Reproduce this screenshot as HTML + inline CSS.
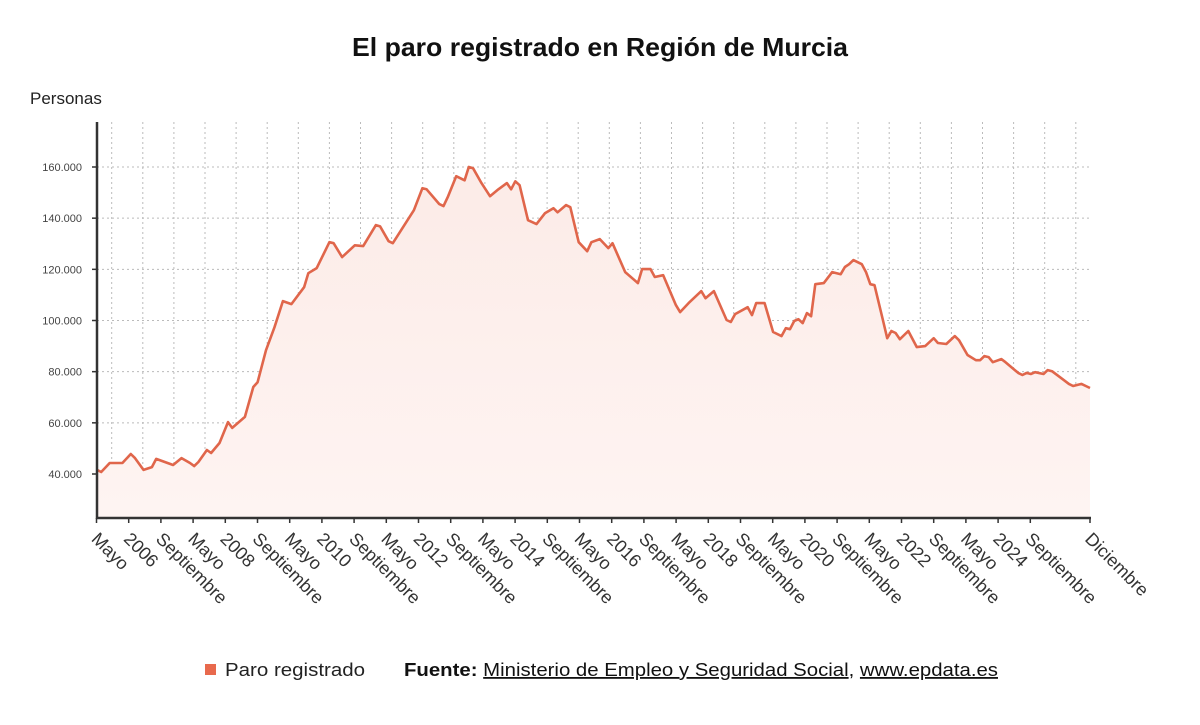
<!DOCTYPE html>
<html><head><meta charset="utf-8"><style>
body{margin:0;background:#fff;width:1200px;height:720px;overflow:hidden;font-family:"Liberation Sans",sans-serif}
</style></head><body>
<svg id="chart" width="1200" height="720" xmlns="http://www.w3.org/2000/svg">
<defs><linearGradient id="fillg" x1="0" y1="0" x2="0" y2="1"><stop offset="0" stop-color="#fcebe7"/><stop offset="1" stop-color="#fef4f2"/></linearGradient></defs>
<text x="352" y="56" textLength="496" lengthAdjust="spacingAndGlyphs" font-size="26" font-weight="bold" fill="#111">El paro registrado en Región de Murcia</text>
<text x="30" y="104" font-size="17" fill="#222">Personas</text>
<g id="grid"></g>
<g id="plot"></g>
<g id="axes"></g>
<g>
<rect x="205" y="664" width="11" height="11" fill="#e8694d"/>
<text x="225" y="676" font-size="18" textLength="140" lengthAdjust="spacingAndGlyphs" fill="#222">Paro registrado</text>
<text x="404" y="676" font-size="18" textLength="594" lengthAdjust="spacingAndGlyphs" fill="#111"><tspan font-weight="bold">Fuente:</tspan> <tspan text-decoration="underline">Ministerio de Empleo y Seguridad Social</tspan>, <tspan text-decoration="underline">www.epdata.es</tspan></text>
</g>
</svg>
<script>
const months=[0,1,3,6,8,9,11,13,14,18,20,22,23,24,26,27,29,31,32,35,37,38,40,42,44,46,49,50,52,55,56,58,61,63,66,67,69,70,75,77,78,81,82,83,85,87,88,89,91,93,95,97,98,99,100,102,104,106,108,109,111,112,114,116,117,119,121,122,125,128,129,131,132,134,137,138,140,143,144,146,149,150,151,154,155,156,158,160,162,163,164,165,166,167,168,169,170,172,174,176,177,178,179,181,182,183,184,186,187,188,189,190,192,194,196,198,199,201,203,204,206,208,209,210,211,212,214,215,218,219,220,221,222,224,225,226,230,231,233,234,235];
const values=[41600,40800,44300,44300,47800,46200,41600,42700,45900,43500,46200,44300,43100,44700,49400,48200,52100,60300,58000,62300,74000,75900,88400,97400,107600,106400,113000,118500,120500,130600,130200,124800,129400,129100,137300,136800,131000,130200,143100,151700,151300,145500,144700,148200,156400,154800,160000,159500,153700,148600,151300,153700,151300,154400,152900,139200,137700,141900,143900,142300,145100,144300,130600,127100,130600,131800,128300,130200,118900,114600,120100,120100,117000,117700,106000,103300,106800,111500,108700,111500,100200,99400,102500,105200,102100,106800,106800,95500,93900,97000,96600,99800,100500,99000,102900,101700,114200,114600,118900,118100,120900,122000,123600,122000,118900,114200,113800,100200,93100,95900,95100,92700,95900,89600,90000,93100,91200,90800,93900,92300,86500,84500,84500,86100,85700,83700,84900,83700,79500,78700,79500,79100,79800,79100,80600,80200,75200,74400,75200,74400,73600];
const yTicks=[40000,60000,80000,100000,120000,140000,160000];
const yTickLabels=["40.000","60.000","80.000","100.000","120.000","140.000","160.000"];
const xLabels=["Mayo","2006","Septiembre","Mayo","2008","Septiembre","Mayo","2010","Septiembre","Mayo","2012","Septiembre","Mayo","2014","Septiembre","Mayo","2016","Septiembre","Mayo","2018","Septiembre","Mayo","2020","Septiembre","Mayo","2022","Septiembre","Mayo","2024","Septiembre","Diciembre"];
const totalMonths=235;

const NS="http://www.w3.org/2000/svg";
const L=97,R=1090,T=122,B=518;
const xs=m=>L+(R-L)*m/totalMonths;
const ys=v=>474-(v-40000)*(307/120000);
function mk(tag,attrs,parent){const e=document.createElementNS(NS,tag);for(const k in attrs)e.setAttribute(k,attrs[k]);parent.appendChild(e);return e;}
const grid=document.getElementById('grid'),plot=document.getElementById('plot'),axes=document.getElementById('axes');
for(let i=0;i<32;i++){const x=111.7+i*31.1;const g=mk('line',{x1:x,x2:x,y1:T,y2:B,stroke:'#bbb','stroke-dasharray':'2,3'},grid);

}
yTicks.forEach((v,i)=>{const y=ys(v);const g=mk('line',{x1:L,x2:R,y1:y,y2:y,stroke:'#bbb','stroke-dasharray':'2,3'},grid);


const t=mk('text',{x:82,y:y+4,'text-anchor':'end','font-size':11,fill:'#444'},axes);t.textContent=yTickLabels[i];


const tk=mk('line',{x1:L-5,x2:L,y1:y,y2:y,stroke:'#333','stroke-width':1.5},axes);

});
let d='';months.forEach((m,i)=>{d+=(i?'L':'M')+xs(m).toFixed(1)+','+ys(values[i]).toFixed(1);});
const area=mk('path',{d:d+'L'+xs(months[months.length-1])+','+B+'L'+xs(months[0])+','+B+'Z',fill:'url(#fillg)'},plot);


const line=mk('path',{d:d,fill:'none',stroke:'#e0664b','stroke-width':2.6,'stroke-linejoin':'round'},plot);


const ya=mk('line',{x1:L,x2:L,y1:T,y2:B+1,stroke:'#333','stroke-width':2.5},axes);


const xa=mk('line',{x1:L-1,x2:R+1,y1:B,y2:B,stroke:'#333','stroke-width':2.5},axes);


xLabels.forEach((lab,i)=>{const x=(i<xLabels.length-1)?96.5+i*32.2:R;
const tk=mk('line',{x1:x,x2:x,y1:B,y2:B+5,stroke:'#333','stroke-width':1.5},axes);


const t=mk('text',{x:0,y:0,'font-size':18,fill:'#333',transform:'translate('+(x-6)+','+(B+22)+') rotate(45)'},axes);t.textContent=lab;

});
</script>
</body></html>
